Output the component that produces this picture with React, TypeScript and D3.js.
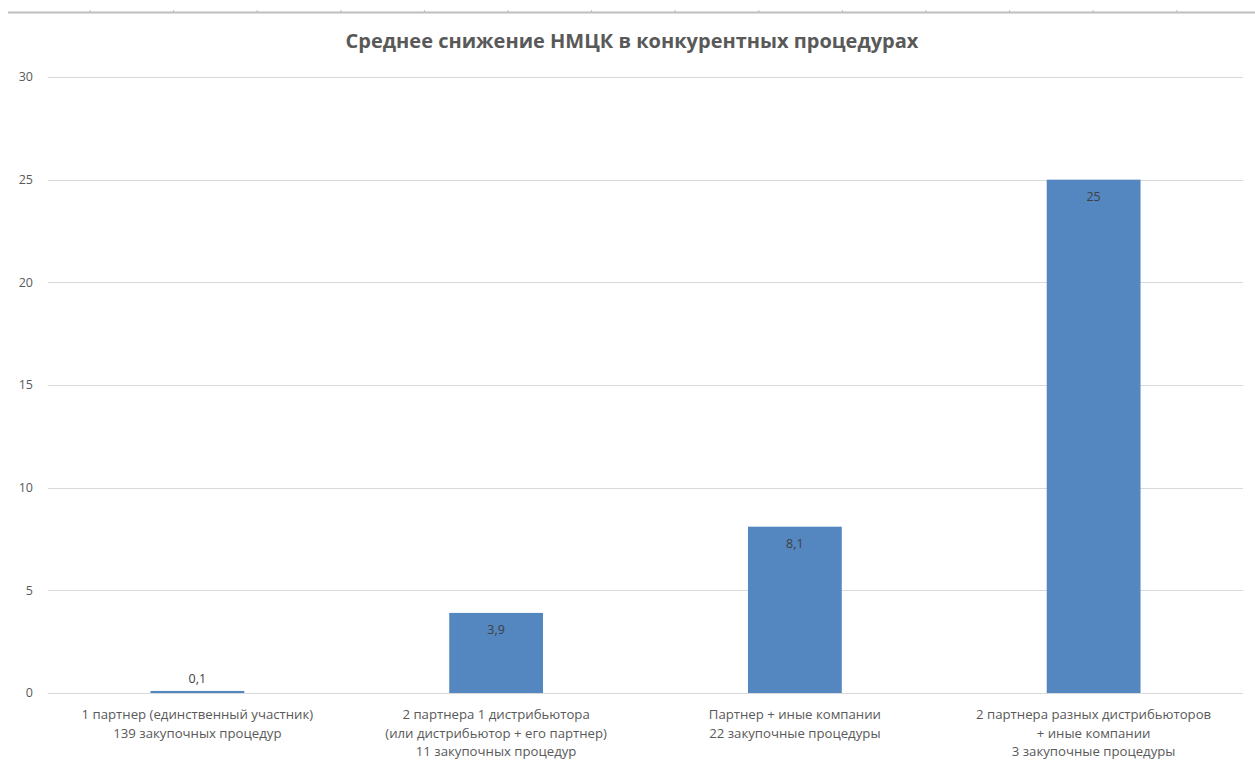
import * as d3 from 'd3'
import { useEffect, useRef } from 'react'

const categories: string[][] = [
  ['1 партнер (единственный участник)', '139 закупочных процедур'],
  ['2 партнера 1 дистрибьютора', '(или дистрибьютор + его партнер)', '11 закупочных процедур'],
  ['Партнер + иные компании', '22 закупочные процедуры'],
  ['2 партнера разных дистрибьюторов', '+ иные компании', '3 закупочные процедуры'],
]
const values = [0.1, 3.9, 8.1, 25]
const valueLabels = ['0,1', '3,9', '8,1', '25']
const yTicks = [0, 5, 10, 15, 20, 25, 30]
const title = 'Среднее снижение НМЦК в конкурентных процедурах'

const FONT = '"Open Sans", "Noto Sans", sans-serif'

export default function App() {
  const svgRef = useRef<SVGSVGElement>(null)

  useEffect(() => {
    if (!svgRef.current) return
    const svg = d3.select(svgRef.current)
    svg.selectAll('*').remove()

    const W = 1255
    const H = 766
    const left = 48
    const right = 1243
    const top = 77
    const bottom = 693

    svg.attr('viewBox', `0 0 ${W} ${H}`).style('font-family', FONT)
    svg.append('rect').attr('width', W).attr('height', H).attr('fill', '#fff')

    // spreadsheet column strip at the very top
    const colEdges = d3.range(90, 1240, 83.6)
    svg.append('line').attr('x1', 8).attr('x2', W).attr('y1', 12.5).attr('y2', 12.5)
      .attr('stroke', '#bdbdbd').attr('stroke-width', 2)
    svg.append('g').selectAll('line').data(colEdges).join('line')
      .attr('x1', (d) => d).attr('x2', (d) => d).attr('y1', 10).attr('y2', 12)
      .attr('stroke', '#bdbdbd').attr('stroke-width', 1)

    const x = d3.scaleBand<number>().domain(d3.range(values.length)).range([left, right])
      .paddingInner(0.686).paddingOuter(0.343)
    const y = d3.scaleLinear().domain([0, 30]).range([bottom, top])

    // gridlines
    svg.append('g').selectAll('line').data(yTicks).join('line')
      .attr('x1', left).attr('x2', right)
      .attr('y1', (d) => Math.round(y(d)) + 0.5).attr('y2', (d) => Math.round(y(d)) + 0.5)
      .attr('stroke', '#d9d9d9').attr('stroke-width', 1)

    // y tick labels
    svg.append('g').selectAll('text').data(yTicks).join('text')
      .attr('x', 33).attr('y', (d) => y(d)).attr('dy', '0.35em')
      .attr('text-anchor', 'end').attr('fill', '#595959').attr('font-size', 12.5)
      .text((d) => String(d))

    // bars
    svg.append('g').selectAll('rect').data(values).join('rect')
      .attr('x', (_, i) => x(i)!).attr('width', x.bandwidth())
      .attr('y', (d) => y(d)).attr('height', (d) => y(0) - y(d))
      .attr('fill', '#5487c0')

    // value labels
    svg.append('g').selectAll('text').data(values).join('text')
      .attr('x', (_, i) => x(i)! + x.bandwidth() / 2)
      .attr('y', (d) => (y(0) - y(d) < 25 ? y(d) - 12 : y(d) + 17))
      .attr('dy', '0.35em')
      .attr('text-anchor', 'middle').attr('fill', '#404040').attr('font-size', 12.5)
      .text((_, i) => valueLabels[i])

    // category labels
    const cat = svg.append('g').selectAll('text').data(categories).join('text')
      .attr('text-anchor', 'middle').attr('fill', '#595959').attr('font-size', 13.2)
    cat.selectAll('tspan').data((d, i) => d.map((line) => ({ line, i }))).join('tspan')
      .attr('x', (d) => x(d.i)! + x.bandwidth() / 2)
      .attr('y', (_, j) => 719 + j * 18.5)
      .text((d) => d.line)

    // title
    svg.append('text').attr('x', 632).attr('y', 48).attr('text-anchor', 'middle')
      .attr('fill', '#595959').attr('font-size', 20).attr('font-weight', 'bold')
      .text(title)
  }, [])

  return <svg ref={svgRef} width={1255} height={766} style={{ display: 'block', position: 'absolute', left: 0, top: 0 }} />
}
